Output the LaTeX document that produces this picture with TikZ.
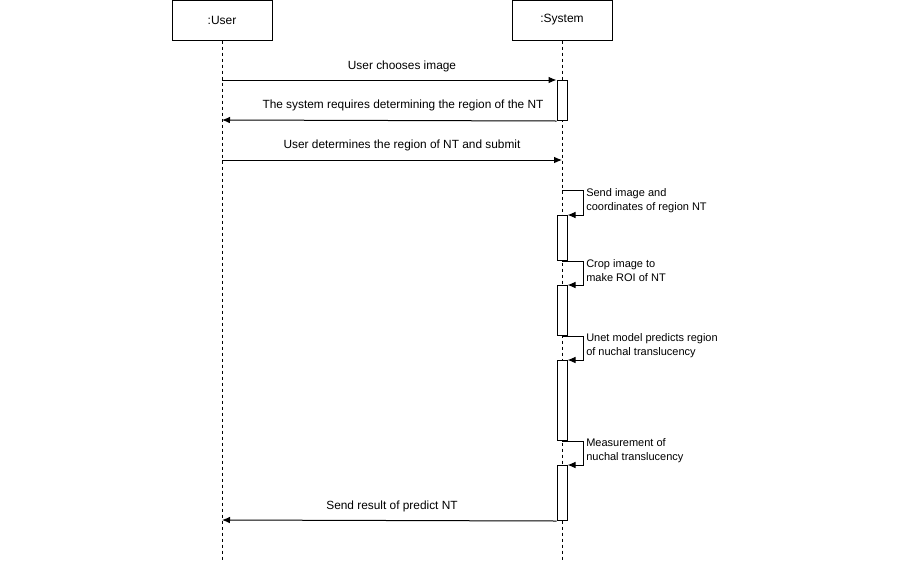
\documentclass[tikz,border=0pt]{standalone}
\usepackage{fontspec}
\setmainfont{Liberation Sans}
\usetikzlibrary{arrows.meta}
\begin{document}
\begin{tikzpicture}[x=0.75pt,y=-0.75pt,
  obj/.style={draw, line width=0.75pt, minimum width=75pt, minimum height=30pt, font=\fontsize{9}{11}\selectfont, inner sep=0},
  act/.style={draw, fill=white, line width=0.75pt, minimum width=7.5pt, inner sep=0, anchor=north},
  msg/.style={-{Latex[length=6pt,width=5pt]}, line width=0.75pt},
  lbl/.style={font=\fontsize{8.9}{10}\selectfont, inner sep=0},
  slbl/.style={font=\fontsize{8.25}{10.5}\selectfont, inner sep=0, align=left, anchor=west},
  life/.style={line width=0.75pt, dash pattern=on 2.25pt off 2.25pt}]
\useasboundingbox (0,0) rectangle (899,561);
% objects
\node[obj] (user) at (222,20) {:User};
\node[obj] (sys) at (562,20) {:System};
\coordinate (uend) at (222,561);
\coordinate (send) at (562,561);
\draw[life] (user.south) -- (uend);
\draw[life] (sys.south) -- (send);
% activations
\node[act, minimum height=30pt] (a1) at (562,80) {};
\node[act, minimum height=33.75pt] (a2) at (562,215) {};
\node[act, minimum height=37.5pt] (a3) at (562,285) {};
\node[act, minimum height=60pt] (a4) at (562,360) {};
\node[act, minimum height=41.25pt] (a5) at (562,465) {};
% lifeline points
\coordinate (u80) at (222,80);
\coordinate (u120) at (222,120);
\coordinate (u160) at (222,160);
\coordinate (s160) at (562,160);
\coordinate (u520) at (222,520);
\coordinate (s190) at (562,190);
% messages
\draw[msg] (u80) -- (a1.north west);
\node[lbl] (l1) at (402,66) {User chooses image};
\draw[msg] (a1.south west) -- (u120);
\node[lbl] (l2) at (403,105) {The system requires determining the region of the NT};
\draw[msg] (u160) -- (s160);
\node[lbl] (l3) at (402,145) {User determines the region of NT and submit};
% self messages
\draw[msg] (s190) -- ++(21,0) |- (a2.north east);
\node[slbl] (l4) at (586,201) {Send image and\\coordinates of region NT};
\draw[msg] (a2.south) -- ++(21,0) |- (a3.north east);
\node[slbl] (l5) at (586,271) {Crop image to\\make ROI of NT};
\draw[msg] (a3.south) -- ++(21,0) |- (a4.north east);
\node[slbl] (l6) at (586,346) {Unet model predicts region\\of nuchal translucency};
\draw[msg] (a4.south) -- ++(21,0) |- (a5.north east);
\node[slbl] (l7) at (586,451) {Measurement of\\nuchal translucency};
% return
\draw[msg] (a5.south west) -- (u520);
\node[lbl] (l8) at (392,506) {Send result of predict NT};
\end{tikzpicture}
\end{document}
